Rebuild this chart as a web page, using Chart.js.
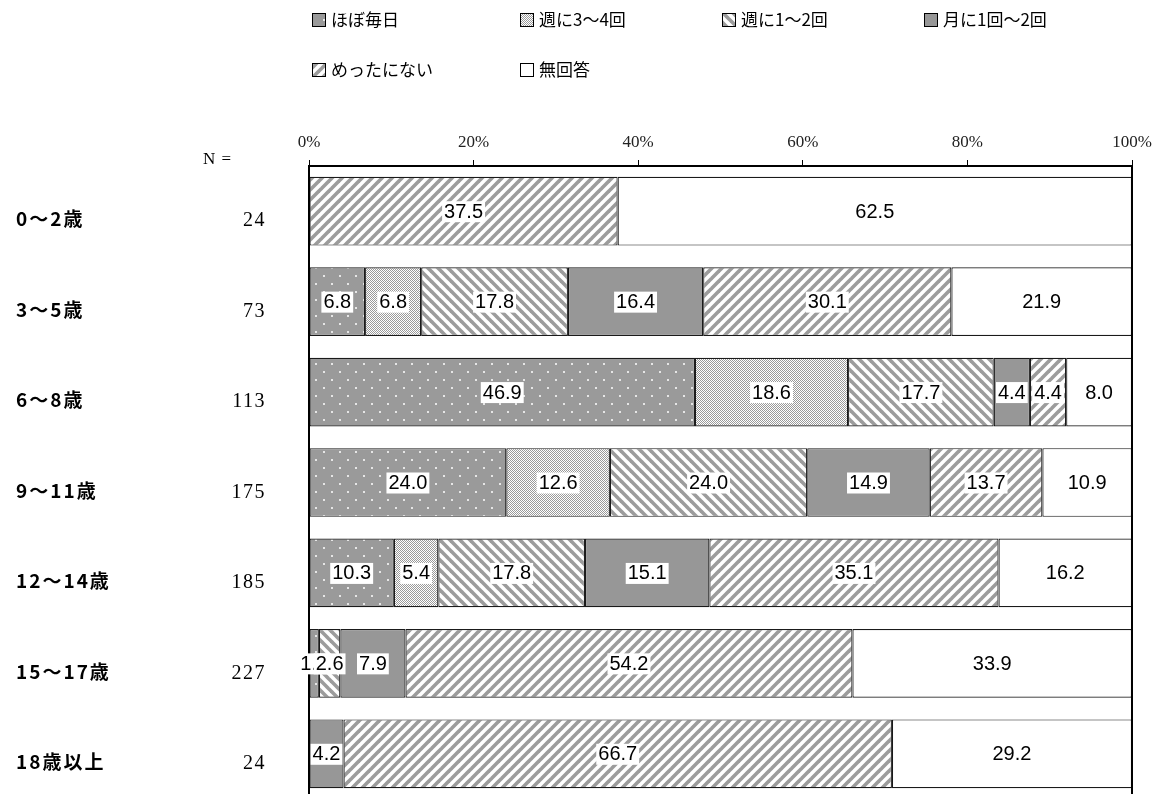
<!DOCTYPE html>
<html lang="ja">
<head>
<meta charset="utf-8">
<title>年齢別 頻度</title>
<script src="https://cdn.jsdelivr.net/npm/chart.js@4.4.1/dist/chart.umd.min.js"></script>
<style>
  html, body { margin: 0; padding: 0; background: #fff; overflow: hidden; }
  canvas { display: block; }
</style>
</head>
<body>
<canvas id="chart" width="1157" height="800"></canvas>
<script>
// data
const ageGroups = ['0〜2歳', '3〜5歳', '6〜8歳', '9〜11歳', '12〜14歳', '15〜17歳', '18歳以上'];
const sampleSizes = [24, 73, 113, 175, 185, 227, 24];
const tickLabels = ['0%', '20%', '40%', '60%', '80%', '100%'];
const seriesNames = ['ほぼ毎日', '週に3〜4回', '週に1〜2回', '月に1回〜2回', 'めったにない', '無回答'];

const almostDaily = [0, 6.8, 46.9, 24.0, 10.3, 1.2, 0];
const threeFourWeek = [0, 6.8, 18.6, 12.6, 5.4, 0, 0];
const oneTwoWeek = [0, 17.8, 17.7, 24.0, 17.8, 2.6, 0];
const oneTwoMonth = [0, 16.4, 4.4, 14.9, 15.1, 7.9, 4.2];
const rarely = [37.5, 30.1, 4.4, 13.7, 35.1, 54.2, 66.7];
const noAnswer = [62.5, 21.9, 8.0, 10.9, 16.2, 33.9, 29.2];

const seriesData = [almostDaily, threeFourWeek, oneTwoWeek, oneTwoMonth, rarely, noAnswer];

// rounded percentages don't always add to 100, scale each row so bars fill the frame
const rowTotals = ageGroups.map((_, i) => seriesData.reduce((s, arr) => s + arr[i], 0));
const barData = seriesData.map(arr => arr.map((v, i) => v * 100 / rowTotals[i]));

const canvas = document.getElementById('chart');
const mainCtx = canvas.getContext('2d');

// fill patterns
function makePattern(w, h, draw) {
  const c = document.createElement('canvas');
  c.width = w; c.height = h;
  draw(c.getContext('2d'), w, h);
  return mainCtx.createPattern(c, 'repeat');
}

const dotPattern = makePattern(16, 16, (g, w, h) => {
  g.fillStyle = '#9a9a9a';
  g.fillRect(0, 0, w, h);
  g.fillStyle = '#e6e6e6';
  g.fillRect(3, 3, 2, 2);
  g.fillRect(11, 11, 2, 2);
});

const finePattern = makePattern(2, 2, (g) => {
  g.fillStyle = '#fff';
  g.fillRect(0, 0, 2, 2);
  g.fillStyle = '#9a9a9a';
  g.fillRect(0, 0, 1, 1);
  g.fillRect(1, 1, 1, 1);
});

function stripes(forward) {
  return makePattern(10, 10, (g, s) => {
    g.fillStyle = '#fff';
    g.fillRect(0, 0, s, s);
    g.strokeStyle = '#9c9c9c';
    g.lineWidth = 3.6;
    for (let k = -1; k <= 1; k++) {
      const x0 = k * s;
      g.beginPath();
      if (forward) {
        g.moveTo(x0 - s, 2 * s);
        g.lineTo(x0 + 2 * s, -s);
      } else {
        g.moveTo(x0 - s, -s);
        g.lineTo(x0 + 2 * s, 2 * s);
      }
      g.stroke();
    }
  });
}

const fills = [dotPattern, finePattern, stripes(false), '#979797', stripes(true), '#ffffff'];

// frame around the plot
const plotFrame = {
  id: 'plotFrame',
  afterDatasetsDraw(chart) {
    const { ctx, chartArea } = chart;
    ctx.save();
    ctx.strokeStyle = '#000';
    ctx.lineWidth = 2;
    ctx.beginPath();
    ctx.moveTo(chartArea.left, chartArea.top);
    ctx.lineTo(chartArea.left, chartArea.bottom);
    ctx.moveTo(chartArea.right, chartArea.top);
    ctx.lineTo(chartArea.right, chartArea.bottom);
    ctx.stroke();
    ctx.restore();
  }
};

// value labels with white boxes (original values, not the scaled ones)
const valueLabels = {
  id: 'valueLabels',
  afterDatasetsDraw(chart) {
    const ctx = chart.ctx;
    ctx.save();
    ctx.font = '20px "Liberation Sans", Arial, sans-serif';
    ctx.textAlign = 'center';
    ctx.textBaseline = 'middle';
    seriesData.forEach((arr, di) => {
      chart.getDatasetMeta(di).data.forEach((bar, i) => {
        const v = arr[i];
        if (!v) return;
        const x = (bar.x + bar.base) / 2;
        const y = bar.y;
        const text = v.toFixed(1);
        const w = ctx.measureText(text).width + 4;
        ctx.fillStyle = '#fff';
        ctx.fillRect(x - w / 2, y - 10, w, 21);
        ctx.fillStyle = '#000';
        ctx.fillText(text, x, y + 1);
      });
    });
    ctx.restore();
  }
};

// category names, N and legend
const sideText = {
  id: 'sideText',
  afterDraw(chart) {
    const ctx = chart.ctx;
    const yScale = chart.scales.y;
    ctx.save();
    ctx.fillStyle = '#000';
    ctx.textBaseline = 'middle';

    ctx.font = '17px "Liberation Serif", serif';
    ctx.textAlign = 'left';
    ctx.letterSpacing = '1px';
    ctx.fillText('N =', 203, 160);

    ageGroups.forEach((name, i) => {
      const y = yScale.getPixelForValue(i) + 8;
      ctx.textAlign = 'left';
      ctx.font = 'bold 19px "Noto Sans CJK JP", sans-serif';
      ctx.letterSpacing = '2px';
      ctx.fillText(name, 16, y);
      ctx.letterSpacing = '1.5px';
      ctx.textAlign = 'right';
      ctx.font = '20px "Liberation Serif", serif';
      ctx.fillText(String(sampleSizes[i]), 266, y + 2);
    });

    // legend
    const cols = [312, 520, 722, 924];
    const rows = [20, 70];
    ctx.font = '17px "Noto Sans CJK JP", sans-serif';
    ctx.letterSpacing = '0px';
    ctx.textAlign = 'left';
    chart.data.datasets.forEach((ds, i) => {
      const x = cols[i % 4];
      const y = rows[Math.floor(i / 4)];
      ctx.fillStyle = ds.backgroundColor;
      ctx.fillRect(x, y - 7, 14, 14);
      ctx.strokeStyle = '#000';
      ctx.lineWidth = 1;
      ctx.strokeRect(x + 0.5, y - 6.5, 13, 13);
      ctx.fillStyle = '#000';
      ctx.fillText(ds.label, x + 19, y);
    });
    ctx.restore();
  }
};

new Chart(canvas, {
  type: 'bar',
  data: {
    labels: ageGroups,
    datasets: seriesNames.map((name, i) => ({
      label: name,
      data: barData[i],
      backgroundColor: fills[i],
      borderColor: '#1a1a1a',
      borderWidth: 1.2,
      borderSkipped: false,
      categoryPercentage: 1,
      barPercentage: 0.76
    }))
  },
  options: {
    indexAxis: 'y',
    responsive: false,
    animation: false,
    devicePixelRatio: 1,
    layout: { padding: { left: 309, right: 25, top: 0, bottom: 1 } },
    plugins: {
      legend: { display: false },
      tooltip: { enabled: false }
    },
    scales: {
      x: {
        position: 'top',
        stacked: true,
        min: 0,
        max: 100,
        afterFit: (scale) => {
          scale.height = 166;
          scale.paddingLeft = 0;
          scale.paddingRight = 0;
        },
        ticks: {
          stepSize: 20,
          padding: 7,
          color: '#222',
          font: { family: '"Liberation Serif", serif', size: 17 },
          callback: (value, index) => tickLabels[index]
        },
        grid: {
          drawOnChartArea: false,
          drawTicks: true,
          tickLength: 6,
          color: '#000',
          lineWidth: 1
        },
        border: { display: true, color: '#000', width: 2 }
      },
      y: {
        stacked: true,
        display: false
      }
    }
  },
  plugins: [plotFrame, valueLabels, sideText]
});
</script>
</body>
</html>
